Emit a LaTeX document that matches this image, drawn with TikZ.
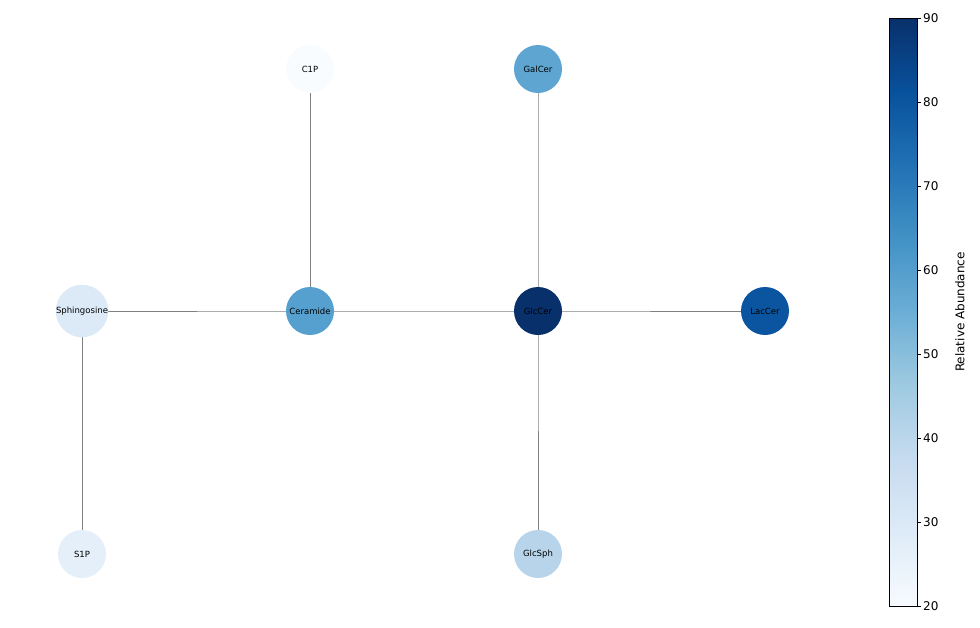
\documentclass[tikz,border=0pt]{standalone}
\usepackage{fontspec}
\setmainfont{DejaVu Sans}
\definecolor{b0}{HTML}{F7FBFF}\definecolor{b1}{HTML}{DEEBF7}\definecolor{b2}{HTML}{C6DBEF}
\definecolor{b3}{HTML}{9ECAE1}\definecolor{b4}{HTML}{6BAED6}\definecolor{b5}{HTML}{4292C6}
\definecolor{b6}{HTML}{2171B5}\definecolor{b7}{HTML}{08519C}\definecolor{b8}{HTML}{08306B}
\pgfdeclareverticalshading{blues}{100bp}{color(0bp)=(b0); color(25bp)=(b0); color(31.25bp)=(b1); color(37.5bp)=(b2); color(43.75bp)=(b3); color(50bp)=(b4); color(56.25bp)=(b5); color(62.5bp)=(b6); color(68.75bp)=(b7); color(75bp)=(b8); color(100bp)=(b8)}
\begin{document}
\begin{tikzpicture}[x=1pt,y=-1pt,
  mol/.style={circle,minimum size=48pt,inner sep=0pt,font=\fontsize{8.5}{10}\selectfont},
  edge/.style={draw=gray,line width=0.8pt}]
\useasboundingbox (0,0) rectangle (980,627);
\coordinate (c1p) at (310,69);
\coordinate (galcer) at (538,69);
\coordinate (sph) at (82,311);
\coordinate (cer) at (310,311);
\coordinate (glc) at (538,311);
\coordinate (lac) at (765,311);
\coordinate (s1p) at (82,554);
\coordinate (glcsph) at (538,554);
\draw[edge] (sph) -- (cer) -- (glc) -- (lac);
\draw[edge] (c1p) -- (cer);
\draw[edge] (galcer) -- (glc) -- (glcsph);
\draw[edge] (sph) -- (s1p);
\node[mol,fill=b0!70!white] (nc1p) at (c1p) {C1P};
\node[mol,fill={rgb,255:red,94;green,165;blue,210}] (ngalcer) at (galcer) {GalCer};
\node[mol,fill={rgb,255:red,220;green,233;blue,246}] (nsph) at (sph) {Sphingosine};
\node[mol,fill={rgb,255:red,85;green,160;blue,206}] (ncer) at (cer) {Ceramide};
\node[mol,fill=b8] (nglc) at (glc) {GlcCer};
\node[mol,fill={rgb,255:red,11;green,85;blue,160}] (nlac) at (lac) {LacCer};
\node[mol,fill={rgb,255:red,229;green,239;blue,249}] (ns1p) at (s1p) {S1P};
\node[mol,fill={rgb,255:red,183;green,212;blue,234}] (nglcsph) at (glcsph) {GlcSph};
% colorbar
\shade[shading=blues] (889,18) rectangle (917,606);
\draw[line width=0.8pt] (889,18) rectangle (917,606);
\foreach \v in {20,30,...,90}{
  \pgfmathsetmacro{\yy}{606-(\v-20)*8.4}
  \draw (917,\yy) -- (921,\yy) node[right,inner sep=2pt,font=\fontsize{12}{14}\selectfont] {\v};
}
\node[rotate=90,font=\fontsize{12}{14}\selectfont] (lbl) at (960,312) {Relative Abundance};
\end{tikzpicture}
\end{document}
